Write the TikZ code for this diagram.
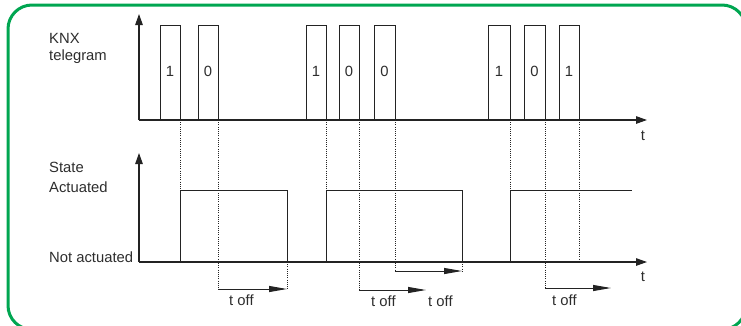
\documentclass[tikz,border=0pt]{standalone}
\usepackage{fontspec}
\setmainfont{Liberation Sans}
\usetikzlibrary{arrows.meta}
\definecolor{framegreen}{RGB}{0,166,81}
\definecolor{ink}{RGB}{35,35,35}
\definecolor{textink}{RGB}{45,45,45}
\begin{document}
\begin{tikzpicture}[x=1pt,y=-1pt,
  lbl/.style={font=\fontsize{14.8}{17}\selectfont, text=textink, inner sep=0pt},
  sig/.style={draw=ink, line width=1pt},
  guide/.style={draw=ink, line width=1pt, dash pattern=on 1pt off 1.2pt},
  axis/.style={draw=ink, line width=1.2pt},
  axtip/.style={-{Triangle[length=11pt,width=7.5pt]}},
  dur/.style={draw=ink, line width=1pt, -{Triangle[length=18pt,width=6pt]}},
]
\clip (0,0) rectangle (741,325);
\useasboundingbox (0,0) rectangle (741,325);

% green frame
\draw[framegreen, line width=3pt, rounded corners=24pt] (8,5) rectangle (746,329.5);

% ---- telegram axes
\coordinate (o1) at (139,120);
\coordinate (y1) at (139,14);
\coordinate (x1) at (647,120);
\draw[axis, axtip] (o1) -- (y1);
\draw[axis, axtip] (o1) -- (x1);
\node[lbl, anchor=base] (t1) at (643,140) {t};

% telegram pulses with bit values
\foreach \a/\b/\v in {160/180/1,198/218/0,306/326/1,339/359/0,374/395/0,488/510/1,524/545/0,559/579/1}{
  \draw[sig] (\a,120) -- (\a,25) -- (\b,25) -- (\b,120);
  \node[lbl] at ({(\a+\b)/2},71) {\v};
}

% ---- state axes
\coordinate (o2) at (139,262);
\coordinate (y2) at (139,153);
\coordinate (x2) at (647,262);
\draw[axis, axtip] (o2) -- (y2);
\draw[axis, axtip] (o2) -- (x2);
\node[lbl, anchor=base] (t2) at (643,281) {t};

% state signal
\draw[sig] (180,262) -- (180,190) -- (287,190) -- (287,262);
\draw[sig] (326,262) -- (326,190) -- (462,190) -- (462,262);
\draw[sig] (510,262) -- (510,190) -- (632,190);

% left labels
\node[lbl, anchor=base west] at (49,43.3) {KNX};
\node[lbl, anchor=base west] at (49,60) {telegram};
\node[lbl, anchor=base west] at (49,172) {State};
\node[lbl, anchor=base west] at (49,192) {Actuated};
\node[lbl, anchor=base west] at (49,262.5) {Not actuated};

% dotted guides from telegram ends
\draw[guide] (180,120) -- (180,190);
\draw[guide] (218,120) -- (218,289);
\draw[guide] (287,262) -- (287,289);
\draw[guide] (326,120) -- (326,190);
\draw[guide] (359,120) -- (359,290);
\draw[guide] (395,120) -- (395,271);
\draw[guide] (462,262) -- (462,271);
\draw[guide] (510,120) -- (510,190);
\draw[guide] (545,120) -- (545,288);
\draw[guide] (579,120) -- (579,262);

% switch-off delays
\coordinate (d1a) at (218,289); \coordinate (d1b) at (287,289);
\coordinate (d2a) at (359,290); \coordinate (d2b) at (426,290);
\coordinate (d3a) at (395,271); \coordinate (d3b) at (462,271);
\coordinate (d4a) at (545,288); \coordinate (d4b) at (611,288);
\draw[dur] (d1a) -- (d1b);
\draw[dur] (d2a) -- (d2b);
\draw[dur] (d3a) -- (d3b);
\draw[dur] (d4a) -- (d4b);
\node[lbl, anchor=base west] at (229,305.5) {t off};
\node[lbl, anchor=base west] at (371,306.5) {t off};
\node[lbl, anchor=base west] at (428,306.5) {t off};
\node[lbl, anchor=base west] at (552,305.5) {t off};
\end{tikzpicture}
\end{document}
